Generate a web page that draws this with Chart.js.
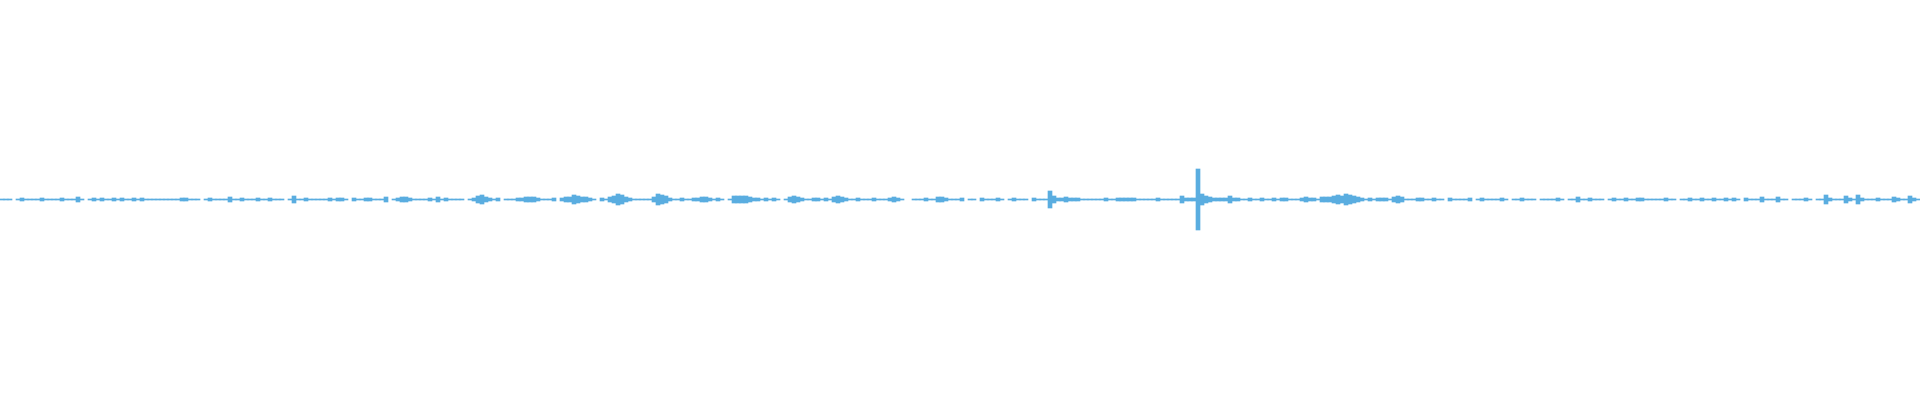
<!DOCTYPE html>
<html>
<head>
<meta charset="utf-8">
<script src="https://cdn.jsdelivr.net/npm/chart.js@4/dist/chart.umd.min.js"></script>
<style>
  html, body { margin: 0; padding: 0; background: #fff; }
  #wave { display: block; }
</style>
</head>
<body>
<canvas id="wave" width="1920" height="400"></canvas>
<script>
// peak amplitude per column (4 px per column), in pixel rows from the centre
// 1 = flat baseline, 0 = silence (no stroke)
const amp = [
  // 0 - 79
  1,1,1,0,1,2,1,1,1,1, 2,1,1,1,1,2,1,1,1,3, 1,0,1,2,1,2,1,1,2,1, 2,1,1,2,1,2,1,1,1,1,
  1,1,1,1,1,2,2,1,1,1, 0,1,2,1,1,1,1,3,1,1, 2,1,1,1,2,1,1,2,1,1, 1,0,1,4,1,1,2,1,1,1,
  // 80 - 159
  1,1,2,1,2,2,1,0,2,1, 1,2,2,1,1,1,3,0,1,2, 3,3,2,1,1,1,1,2,1,3, 1,2,1,1,1,1,0,1,2,4,
  5,3,2,1,2,0,1,1,1,2, 2,3,3,3,2,1,1,1,2,0, 2,3,3,5,4,3,3,2,1,0, 2,1,3,4,6,5,3,2,1,1,
  // 160 - 239
  1,1,1,3,6,5,4,2,1,1, 2,1,1,2,2,3,3,2,1,2, 1,0,1,4,4,4,4,3,2,2, 1,2,1,2,1,0,1,3,4,3,
  2,1,1,2,2,1,2,1,3,4, 3,2,1,1,2,1,1,1,2,1, 1,1,2,3,2,1,0,0,1,1, 1,2,1,1,3,3,2,1,1,1,
  // 240 - 319
  2,0,1,1,0,2,1,1,1,2, 1,0,1,2,1,1,1,0,2,1, 1,1,9,4,2,2,3,2,2,2, 1,1,1,1,1,1,2,1,1,2,
  2,2,2,2,1,1,1,1,1,2, 1,1,1,1,1,4,2,2,2,31, 6,4,3,2,2,2,2,4,2,2, 1,1,2,1,1,2,1,1,2,1,
  // 320 - 399
  2,2,1,1,1,2,3,2,2,1, 3,3,3,4,5,4,6,5,4,3, 2,1,2,1,2,2,2,1,3,4, 3,1,1,1,2,2,1,1,2,1,
  1,0,2,1,1,1,1,2,0,1, 2,1,1,1,1,2,1,0,1,1, 2,1,1,1,0,1,1,1,1,2, 1,0,1,1,3,1,1,2,1,1,
  // 400 - 479
  1,0,1,2,1,1,2,1,1,2, 2,1,1,1,1,1,2,1,1,0, 1,1,2,1,1,2,1,1,2,1, 1,2,1,2,1,0,2,1,1,1,
  3,1,1,1,3,1,1,0,1,1, 1,2,1,0,1,1,5,2,1,1, 1,4,2,1,5,2,1,1,1,2, 1,1,1,3,2,1,1,4,2,1
];
const columns = amp.map((v, i) => i);
const lineColor = '#5aade0';

let plot = () => {
  const ctx = document.getElementById('wave');
  const dataset = {
    labels: columns,
    datasets: [{
      // a row count of n covers n - 0.5 px each side of the centre
      data: amp.map(a => a > 0 ? [-(a - 0.5), a - 0.5] : null),
      backgroundColor: lineColor,
      borderWidth: 0,
      barPercentage: 1,
      categoryPercentage: 1
    }]
  };
  const config = {
    type: 'bar',
    data: dataset,
    options: {
      responsive: false,
      animation: false,
      layout: { padding: 0 },
      plugins: { legend: { display: false }, tooltip: { enabled: false } },
      scales: {
        x: { display: false },
        y: { display: false, min: -200.5, max: 199.5 }
      }
    }
  };
  new Chart(ctx, config);
};

plot();
</script>
</body>
</html>
